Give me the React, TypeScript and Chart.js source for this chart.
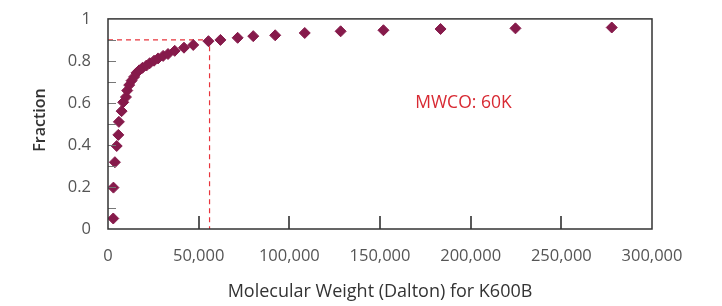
import React, { useEffect, useRef } from "react";
import { Chart, registerables } from "chart.js";

Chart.register(...registerables);

const molecularWeight = [
  2900, 3000, 3800, 4800, 5700, 6000, 7500, 8400, 9900, 10600, 11700, 13000,
  14400, 15700, 17200, 19000, 21200, 23000, 25400, 27600, 30400, 33100, 36800,
  41900, 47000, 55400, 62000, 71500, 80100, 92200, 108500, 128300, 151900,
  183400, 224700, 277800,
];
const fraction = [
  0.05, 0.197, 0.318, 0.395, 0.448, 0.51, 0.561, 0.603, 0.628, 0.659, 0.685,
  0.706, 0.724, 0.743, 0.755, 0.767, 0.778, 0.789, 0.801, 0.812, 0.824, 0.833,
  0.848, 0.863, 0.876, 0.894, 0.9, 0.91, 0.918, 0.922, 0.933, 0.941, 0.946,
  0.952, 0.955, 0.959,
];
const cutoffMW = 56000;
const cutoffFraction = 0.9;
const cutoffLabel = "MWCO: 60K";
const cutoffLabelPos = { x: 196000, y: 0.6 };
const xTickValues = [0, 50000, 100000, 150000, 200000, 250000, 300000];
const yMinorTicks = [0.1, 0.2, 0.3, 0.4, 0.5, 0.6, 0.7, 0.8, 0.9];
const xTitle = "Molecular Weight (Dalton) for K600B";
const yTitle = "Fraction";

const FONT = "'Open Sans', 'DejaVu Sans', sans-serif";

export default function App() {
  const ref = useRef<HTMLCanvasElement | null>(null);

  useEffect(() => {
    document.body.style.margin = "0";
    const canvas = ref.current;
    if (!canvas) return;

    const boxPlugin = {
      id: "boxPlugin",
      afterDraw(chart: any) {
        const { ctx, chartArea, scales } = chart;
        const xs = scales.x;
        const ys = scales.y;
        ctx.save();
        // inner y minor ticks
        ctx.strokeStyle = "#777";
        ctx.lineWidth = 1;
        yMinorTicks.forEach((v) => {
          const py = Math.round(ys.getPixelForValue(v)) + 0.5;
          ctx.beginPath();
          ctx.moveTo(chartArea.left, py);
          ctx.lineTo(chartArea.left + 8, py);
          ctx.stroke();
        });
        // inner x ticks
        ctx.strokeStyle = "#222";
        ctx.lineWidth = 1.5;
        xTickValues.slice(1, -1).forEach((v) => {
          const px = Math.round(xs.getPixelForValue(v));
          ctx.beginPath();
          ctx.moveTo(px, chartArea.bottom);
          ctx.lineTo(px, chartArea.bottom - 13);
          ctx.stroke();
        });
        // box
        ctx.strokeStyle = "#333";
        ctx.lineWidth = 1.5;
        ctx.strokeRect(
          chartArea.left,
          chartArea.top,
          chartArea.right - chartArea.left,
          chartArea.bottom - chartArea.top
        );
        // annotation text
        ctx.fillStyle = "#d82a33";
        ctx.font = `17.5px ${FONT}`;
        ctx.textAlign = "center";
        ctx.textBaseline = "middle";
        ctx.fillText(
          cutoffLabel,
          xs.getPixelForValue(cutoffLabelPos.x),
          ys.getPixelForValue(cutoffLabelPos.y)
        );
        // y title
        ctx.fillStyle = "#333";
        ctx.font = `600 16px ${FONT}`;
        ctx.translate(40, 120);
        ctx.rotate(-Math.PI / 2);
        ctx.fillText(yTitle, 0, 0);
        ctx.restore();
      },
    };

    const chart = new Chart(canvas, {
      type: "scatter",
      data: {
        datasets: [
          {
            type: "line",
            data: [
              { x: 0, y: cutoffFraction },
              { x: cutoffMW, y: cutoffFraction },
              { x: cutoffMW, y: 0 },
            ],
            borderColor: "#e8343c",
            borderWidth: 1.2,
            borderDash: [5, 4],
            pointRadius: 0,
            fill: false,
            tension: 0,
            order: 2,
          } as any,
          {
            data: molecularWeight.map((m, i) => ({ x: m, y: fraction[i] })),
            pointStyle: "rectRot",
            pointRadius: 5.5,
            pointBackgroundColor: "#861a4b",
            pointBorderColor: "#861a4b",
            pointBorderWidth: 1,
            order: 1,
          },
        ],
      },
      options: {
        animation: false,
        responsive: true,
        maintainAspectRatio: false,
        layout: { padding: { top: 14, right: 70, left: 0, bottom: 0 } },
        plugins: {
          legend: { display: false },
          tooltip: { enabled: false },
        },
        scales: {
          x: {
            type: "linear",
            min: 0,
            max: 300000,
            afterFit: (s: any) => {
              s.height = 77;
            },
            afterBuildTicks: (s: any) => {
              s.ticks = xTickValues.map((v) => ({ value: v }));
            },
            grid: { display: false },
            border: { display: false },
            ticks: {
              color: "#555",
              padding: 9,
              font: { family: FONT, size: 16.5 },
              maxRotation: 0,
              callback: (v: any) => Number(v).toLocaleString("en-US"),
            },
            title: {
              display: true,
              text: xTitle,
              color: "#333",
              font: { family: FONT, size: 18, weight: 500 },
              padding: { top: 0, bottom: 3 },
            },
          },
          y: {
            type: "linear",
            min: 0,
            max: 1,
            afterFit: (s: any) => {
              s.width = 108;
            },
            grid: { display: false },
            border: { display: false },
            ticks: {
              stepSize: 0.2,
              color: "#555",
              padding: 9,
              font: { family: FONT, size: 16.5 },
              callback: (v: any) => String(Math.round(Number(v) * 10) / 10),
            },
          },
        },
      },
      plugins: [boxPlugin],
    });

    return () => chart.destroy();
  }, []);

  return (
    <div style={{ position: "fixed", left: 0, top: 0, width: 722, height: 306 }}>
      <canvas ref={ref} />
    </div>
  );
}
